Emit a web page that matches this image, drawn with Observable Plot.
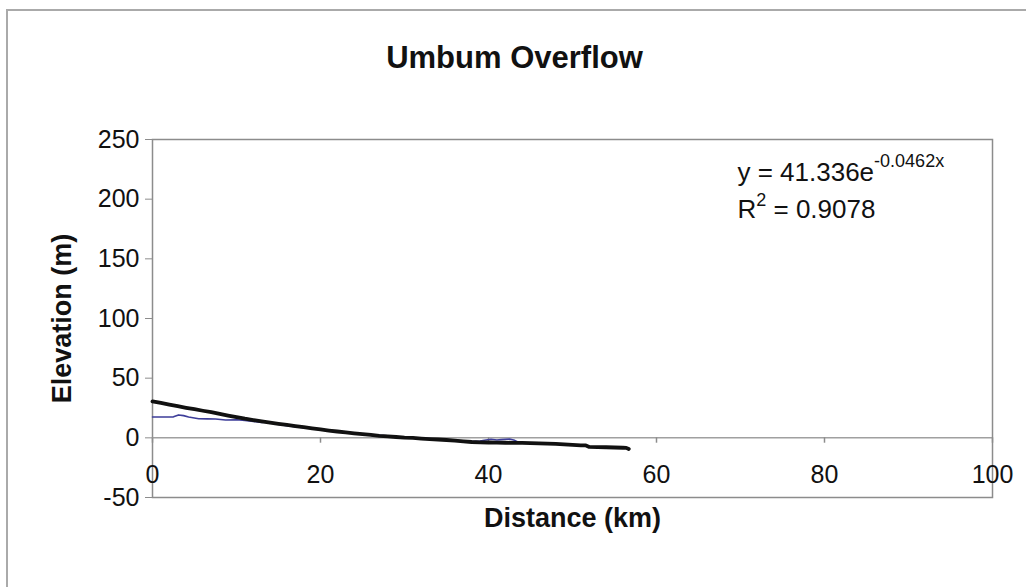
<!DOCTYPE html>
<html><head><meta charset="utf-8">
<script src="https://cdn.jsdelivr.net/npm/d3@7"></script>
<script src="https://cdn.jsdelivr.net/npm/@observablehq/plot@0.6"></script>
<style>
html,body{margin:0;padding:0;background:#fff;width:1026px;height:587px;overflow:hidden;}
#frame{position:absolute;left:6px;top:9px;width:1040px;height:600px;border:2px solid #aaa;box-sizing:border-box;}
#chart{position:absolute;left:0;top:0;}
</style></head><body>
<div id="frame"></div>
<div id="chart"></div>
<script>
const title = "Umbum Overflow";
const xLabel = "Distance (km)";
const yLabel = "Elevation (m)";
const xTicks = [0, 20, 40, 60, 80, 100];
const yTicks = [-50, 0, 50, 100, 150, 200, 250];

// thick black profile
const blackKm = [0,1,2,3,4,5,6,7,8,9,10,11,12,13,14,15,16,17,18,19,20,21,22,23,24,25,26,27,28,29,30,31,32,33,34,35,36,37,38,39,40,41,42,43,44,45,46,47,48,49,50,51,51.6,52,53,54,55,56,56.4,56.7];
const blackElev = [30.5,29.2,27.8,26.5,25.2,24.0,22.7,21.5,20.1,18.7,17.3,16.0,14.9,13.8,12.7,11.7,10.8,9.8,8.9,8.0,7.0,6.1,5.3,4.6,3.8,3.1,2.4,1.7,1.2,0.7,0.2,-0.1,-0.6,-1.0,-1.4,-1.8,-2.3,-2.9,-3.5,-3.8,-3.9,-4.0,-4.1,-4.2,-4.3,-4.5,-4.7,-4.9,-5.1,-5.5,-5.9,-6.3,-6.4,-7.6,-7.8,-7.9,-8.1,-8.3,-8.4,-9.4];

// thin blue profile
const blueKm = [0,1,2,2.5,3.1,3.7,4.3,5.5,6.5,7.5,8.7,10,11,12,13,13.8,14.5,16,17,18,19,20,21,22,23,24,25,26,27,28,29,30,31,32,33,34,35,36,37,38,39,39.5,40.3,41,41.5,42.5,43,43.5,44];
const blueElev = [17.5,17.5,17.5,17.6,19.2,18.6,17.4,16.0,15.9,15.8,15.0,15.2,14.6,13.8,12.8,13.4,11.9,10.2,9.3,8.5,7.8,6.8,6.3,5.0,4.6,3.5,3.0,2.1,2.2,1.8,0.5,0.1,0.0,-0.5,-0.6,-1.5,-1.6,-2.3,-2.7,-3.2,-2.6,-2.0,-1.2,-1.8,-1.5,-1.0,-1.8,-3.5,-4.2];

const fitEquation = ["y = 41.336e", "-0.0462x"];
const fitR2 = ["R", "2", " = 0.9078"];

const black = blackKm.map((x, i) => ({x, y: blackElev[i]}));
const blue = blueKm.map((x, i) => ({x, y: blueElev[i]}));
const FONT = "'Liberation Sans', Arial, Helvetica, sans-serif";

const plot = Plot.plot({
  width: 1026, height: 587,
  marginLeft: 152, marginRight: 34, marginTop: 139, marginBottom: 90,
  x: {domain: [xTicks[0], xTicks[xTicks.length - 1]]},
  y: {domain: [yTicks[0], yTicks[yTicks.length - 1]]},
  style: {fontFamily: FONT, background: "transparent", color: "#111"},
  marks: [
    Plot.frame({stroke: "#8c8c8c", strokeWidth: 1.5}),
    Plot.ruleY([0], {stroke: "#a0a0a0", strokeWidth: 1.5}),
    Plot.ruleX(xTicks, {x: d => d, y1: 0, y2: -4.5, stroke: "#8c8c8c", strokeWidth: 1.5}),
    Plot.axisY({ticks: yTicks, tickSize: 7, tickPadding: 6, stroke: "#8c8c8c", fill: "#111", fontSize: 25, label: null, tickFormat: d => String(d)}),
    Plot.axisX({ticks: xTicks, tickSize: 0, tickPadding: 0, dy: -32, fontSize: 25, fill: "#111", label: null, tickFormat: d => String(d)}),
    Plot.line(blue, {x: "x", y: "y", stroke: "#3d3d99", strokeWidth: 1.6}),
    Plot.line(black, {x: "x", y: "y", stroke: "#111", strokeWidth: 3.8}),
    Plot.text([yLabel], {text: d => d, frameAnchor: "left", textAnchor: "middle", rotate: -90, dx: -90, fontSize: 27, fontWeight: "bold", lineAnchor: "middle"}),
    Plot.text([xLabel], {text: d => d, frameAnchor: "bottom", textAnchor: "middle", dy: 21, fontSize: 27, fontWeight: "bold", lineAnchor: "middle"}),
    Plot.text([title], {text: d => d, frameAnchor: "top", textAnchor: "middle", dx: -58, dy: -81, fontSize: 31, fontWeight: "bold", lineAnchor: "middle"})
  ]
});

document.getElementById("chart").appendChild(plot);

const sx = plot.scale("x"), sy = plot.scale("y");
const g = d3.select(plot).append("g").attr("font-family", FONT).attr("fill", "#111").attr("text-anchor", "start");
const t1 = g.append("text").attr("x", sx.apply(69.7)).attr("y", sy.apply(215)).attr("font-size", 26);
t1.append("tspan").text(fitEquation[0]);
t1.append("tspan").attr("dy", -14).attr("font-size", 18).text(fitEquation[1]);
const t2 = g.append("text").attr("x", sx.apply(69.7)).attr("y", sy.apply(184)).attr("font-size", 26);
t2.append("tspan").text(fitR2[0]);
t2.append("tspan").attr("dy", -12).attr("font-size", 18).text(fitR2[1]);
t2.append("tspan").attr("dy", 12).attr("font-size", 26).text(fitR2[2]);
</script>
</body></html>
